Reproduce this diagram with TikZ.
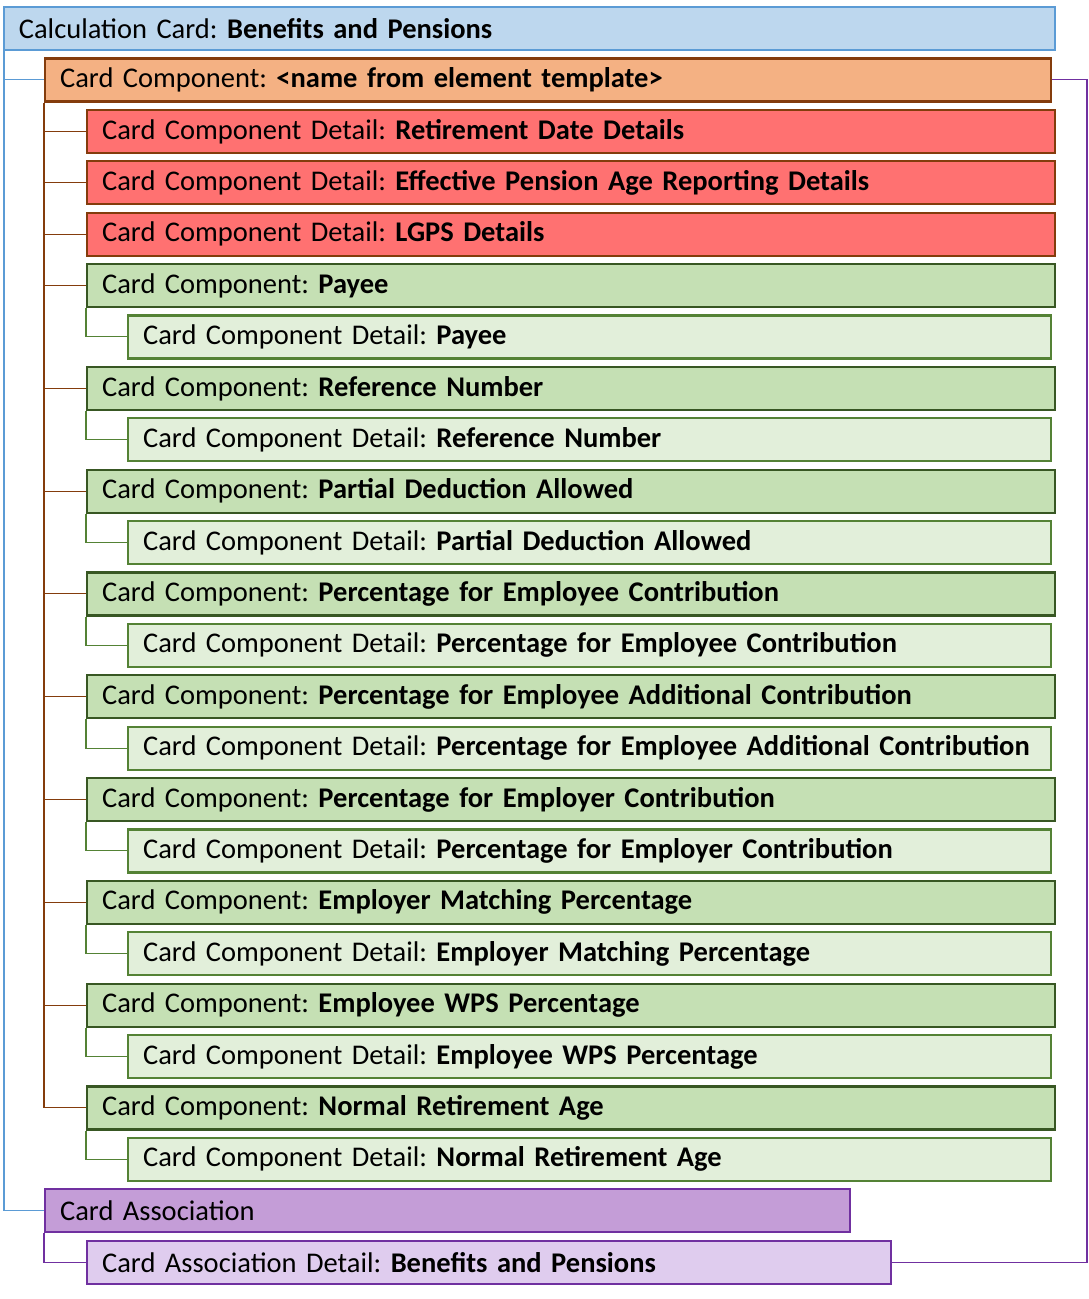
\documentclass[tikz,border=0pt]{standalone}
\usepackage{fontspec}
\setmainfont{Carlito}
\usepackage{tikz}
\frenchspacing

\definecolor{calcfill}{HTML}{BDD7EE}
\definecolor{calcline}{HTML}{5B9BD5}
\definecolor{compfill}{HTML}{F4B183}
\definecolor{compline}{HTML}{843C0C}
\definecolor{redfill}{HTML}{FF7171}
\definecolor{greenfill}{HTML}{C5E0B4}
\definecolor{greenline}{HTML}{385723}
\definecolor{detfill}{HTML}{E2EFDA}
\definecolor{detline}{HTML}{548235}
\definecolor{assocfill}{HTML}{C49DD7}
\definecolor{assocline}{HTML}{7030A0}
\definecolor{assocdfill}{HTML}{DFCCEE}

\begin{document}
\begin{tikzpicture}[x=1pt, y=-1pt,
    box/.style = {draw, line width=2.2pt, anchor=west, minimum height=43pt, inner xsep=15pt, inner ysep=0pt, align=left, font=\fontsize{28.5}{32}\selectfont},
    calc/.style = {box, fill=calcfill, draw=calcline, line width=1.8pt, text width=1021pt},
    comp/.style = {box, fill=compfill, draw=compline, text width=976pt},
    red/.style = {box, fill=redfill, draw=compline, text width=938pt},
    green/.style = {box, fill=greenfill, draw=greenline, text width=938pt},
    det/.style = {box, fill=detfill, draw=detline, text width=893pt},
    assoc/.style = {box, fill=assocfill, draw=assocline, text width=775pt},
    assocd/.style = {box, fill=assocdfill, draw=assocline, text width=774pt},
    link/.style = {line width=1.1pt}]
    \useasboundingbox (0,0) rectangle (1089,1299);
    % calculation card and its component
    \node[calc] (calc) at (3,28.5) {Calculation Card: \textbf{Benefits and Pensions}};
    \node[comp] (comp) at (44,79.9) {Card Component: \textbf{<name from element template>}};
    \node[red] (r1) at (86,131.3) {Card Component Detail: \textbf{Retirement Date Details}};
    \node[red] (r2) at (86,182.7) {Card Component Detail: \textbf{Effective Pension Age Reporting Details}};
    \node[red] (r3) at (86,234.1) {Card Component Detail: \textbf{LGPS Details}};
    \draw[link, compline] (comp.south west) |- (r1.west);
    \draw[link, compline] (comp.south west) |- (r2.west);
    \draw[link, compline] (comp.south west) |- (r3.west);
    % components with one detail each
    \foreach \n/\t in {1/Payee, 2/Reference Number, 3/Partial Deduction Allowed,
        4/Percentage for Employee Contribution, 5/Percentage for Employee Additional Contribution,
        6/Percentage for Employer Contribution, 7/Employer Matching Percentage,
        8/Employee WPS Percentage, 9/Normal Retirement Age} {
        \node[green] (g\n) at (86,{28.5+51.4*(3+2*\n)}) {Card Component: \textbf{\t}};
        \node[det] (d\n) at (127,{28.5+51.4*(4+2*\n)}) {Card Component Detail: \textbf{\t}};
        \draw[link, compline] (comp.south west) |- (g\n.west);
        \draw[link, detline] (g\n.south west) |- (d\n.west);
    }
    % association
    \node[assoc] (assoc) at (44,1210.7) {Card Association};
    \node[assocd] (assocd) at (86,1262.1) {Card Association Detail: \textbf{Benefits and Pensions}};
    \coordinate (rt) at (1087,1262.1);
    \draw[link, calcline] ([xshift=1pt]calc.south west) |- (comp.west);
    \draw[link, calcline] ([xshift=1pt]calc.south west) |- (assoc.west);
    \draw[link, assocline] (assoc.south west) |- (assocd.west);
    \draw[link, assocline] (comp.east) -| (rt) -- (assocd.east);
\end{tikzpicture}
\end{document}
